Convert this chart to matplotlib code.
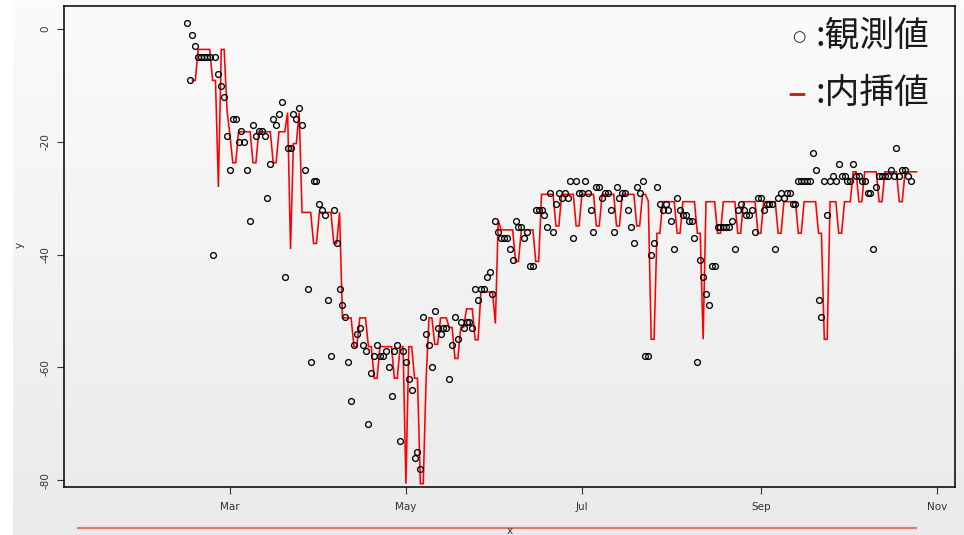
import matplotlib
matplotlib.use("Agg")
import matplotlib.pyplot as plt
from matplotlib.lines import Line2D
import matplotlib.dates as mdates
import numpy as np
import datetime as dt

# ---------------- data ----------------
ref_date = dt.date(2021, 3, 1)   # day 0 = 1 March

obs_days = [-15, -14, -13, -12, -11, -10, -9, -8, -7, -6, -5, -4, -3, -2, -1, 0,
            1, 2, 3, 4, 5, 6, 7, 8, 9, 10, 11, 12, 13, 14, 15, 16, 17, 18, 19, 20,
            21, 22, 23, 24, 25, 26, 27, 28, 29, 30, 31, 32, 33, 34, 35, 36, 37, 38,
            39, 40, 41, 42, 43, 44, 45, 46, 47, 48, 49, 50, 51, 52, 53, 54, 55, 56,
            57, 58, 59, 60, 61, 62, 63, 64, 65, 66, 67, 68, 69, 70, 71, 72, 73, 74,
            75, 76, 77, 78, 79, 80, 81, 82, 83, 84, 85, 86, 87, 88, 89, 90, 91, 92,
            93, 94, 95, 96, 97, 98, 99, 100, 101, 102, 103, 104, 105, 106, 107, 108,
            109, 110, 111, 112, 113, 114, 115, 116, 117, 118, 119, 120, 121, 122,
            123, 124, 125, 126, 127, 128, 129, 130, 131, 132, 133, 134, 135, 136,
            137, 138, 139, 140, 141, 142, 143, 144, 145, 146, 147, 148, 149, 150,
            151, 152, 153, 154, 155, 156, 157, 158, 159, 160, 161, 162, 163, 164,
            165, 166, 167, 168, 169, 170, 171, 172, 173, 174, 175, 176, 177, 178,
            179, 180, 181, 182, 183, 184, 185, 186, 187, 188, 189, 190, 191, 192,
            193, 194, 195, 196, 197, 198, 199, 200, 201, 202, 203, 204, 205, 206,
            207, 208, 209, 210, 211, 212, 213, 214, 215, 216, 217, 218, 219, 220,
            221, 222, 223, 224, 225, 226, 227, 228, 229, 230, 231, 232, 233, 234,
            235, 236]
obs_vals = [1, -9, -1, -3, -5, -5, -5, -5, -5, -40, -5, -8, -10, -12, -19, -25,
            -16, -16, -20, -18, -20, -25, -34, -17, -19, -18, -18, -19, -30, -24, -16, -17, -15, -13, -44, -21,
            -21, -15, -16, -14, -17, -25, -46, -59, -27, -27, -31, -32, -33, -48, -58, -32, -38, -46,
            -49, -51, -59, -66, -56, -54, -53, -56, -57, -70, -61, -58, -56, -58, -58, -57, -60, -65,
            -57, -56, -73, -57, -59, -62, -64, -76, -75, -78, -51, -54, -56, -60, -50, -53, -54, -53,
            -53, -62, -56, -51, -55, -52, -53, -52, -52, -53, -46, -48, -46, -46, -44, -43, -47, -34,
            -36, -37, -37, -37, -39, -41, -34, -35, -35, -37, -36, -42, -42, -32, -32, -32,
            -33, -35, -29, -36, -31, -29, -30, -29, -30, -27, -37, -27, -29, -29,
            -27, -29, -32, -36, -28, -28, -30, -29, -29, -32, -36, -28, -30, -29,
            -29, -32, -35, -38, -28, -29, -27, -58, -58, -40, -38, -28, -31, -32,
            -31, -32, -34, -39, -30, -32, -33, -33, -34, -34, -37, -59, -41, -44,
            -47, -49, -42, -42, -35, -35, -35, -35, -35, -34, -39, -32, -31, -32,
            -33, -33, -32, -36, -30, -30, -32, -31, -31, -31, -39, -30, -29, -30,
            -29, -29, -31, -31, -27, -27, -27, -27, -27, -22, -25, -48, -51, -27,
            -33, -27, -26, -27, -24, -26, -26, -27, -27, -24, -26, -26, -27, -27,
            -29, -29, -39, -28, -26, -26, -26, -26, -25, -26, -21, -26, -25, -25,
            -26, -27]

interp_start_day = -13
interp_vals = [
    -9.1, -9.1, -3.6, -3.6, -3.6, -3.6, -3.6,
    -9.1, -9.1, -28.0, -3.6, -3.6, -14.4, -18.8,
    -23.7, -23.7, -18.2, -18.2, -18.2, -18.2, -18.2,
    -23.7, -23.7, -18.2, -18.2, -18.2, -18.2, -18.2,
    -23.7, -23.7, -18.2, -18.2, -18.2, -14.8, -39.0,
    -20.3, -20.3, -14.8, -32.5, -32.5, -32.5, -32.5,
    -38.0, -38.0, -32.5, -32.5, -32.5, -32.5, -32.5,
    -38.0, -38.0, -32.5, -51.2, -51.2, -51.2, -51.2,
    -56.3, -56.3, -51.2, -51.2, -51.2, -56.3, -56.3,
    -61.9, -61.9, -56.3, -56.3, -56.3, -56.3, -56.3,
    -61.9, -61.9, -56.3, -56.3, -80.6, -56.3, -56.3,
    -61.9, -61.9, -80.6, -80.6, -62.0, -51.2, -51.2,
    -55.9, -55.9, -51.2, -51.2, -51.2, -52.9, -52.9,
    -58.4, -58.4, -52.9, -52.9, -49.6, -49.6, -49.6,
    -55.1, -55.1, -46.6, -46.6, -46.6, -46.6, -46.6,
    -52.2, -33.9, -35.6, -35.6, -35.6, -35.6, -35.6,
    -41.2, -41.2, -35.6, -35.6, -35.6, -35.6, -35.6,
    -41.2, -41.2, -29.3, -29.3, -29.3, -29.3, -29.3,
    -34.9, -34.9, -29.3, -29.3, -29.3, -29.3, -29.3,
    -34.9, -34.9, -29.3, -29.3, -29.3, -29.3, -29.3,
    -34.9, -34.9, -29.3, -29.3, -29.3, -29.3, -29.3,
    -34.9, -34.9, -29.3, -29.3, -29.3, -29.3, -29.3,
    -34.9, -34.9, -29.3, -29.3, -30.5, -55.0, -55.0,
    -36.2, -36.2, -30.6, -30.6, -30.6, -30.6, -30.6,
    -36.2, -36.2, -30.6, -30.6, -30.6, -30.6, -30.6,
    -36.2, -36.2, -55.0, -30.6, -30.6, -30.6, -30.6,
    -36.2, -36.2, -30.6, -30.6, -30.6, -30.6, -30.6,
    -36.2, -36.2, -30.6, -30.6, -30.6, -30.6, -30.6,
    -36.2, -36.2, -30.6, -30.6, -30.6, -30.6, -30.6,
    -36.2, -36.2, -30.6, -30.6, -30.6, -30.6, -30.6,
    -36.2, -36.2, -30.6, -30.6, -30.6, -30.6, -30.6,
    -36.2, -36.2, -55.0, -55.0, -30.6, -30.6, -30.6,
    -36.2, -36.2, -30.6, -30.6, -30.6, -25.3, -25.3,
    -30.6, -30.6, -25.3, -25.3, -25.3, -25.3, -25.3,
    -30.6, -30.6, -25.3, -25.3, -25.3, -25.3, -25.3,
    -30.6, -30.6, -25.3, -25.3, -25.3, -25.3, -25.3,
]

x_tick_dates = [dt.date(2021, 3, 1), dt.date(2021, 5, 1), dt.date(2021, 7, 1),
                dt.date(2021, 9, 1), dt.date(2021, 11, 1)]
x_tick_labels = ["Mar", "May", "Jul", "Sep", "Nov"]
y_ticks = [0, -20, -40, -60, -80]

# ---------------- figure ----------------
W, H = 964, 535
fig = plt.figure(figsize=(W / 100, H / 100), dpi=100)
fig.patch.set_facecolor("white")

# gradient backdrop
bg = fig.add_axes([13 / W, 0, 1 - 13 / W, 1], zorder=-10)
grad = np.linspace(0, 1, 256)[:, None]
top_c = np.array([0.985, 0.985, 0.985])
bot_c = np.array([0.918, 0.918, 0.918])
img = top_c[None, None, :] * (1 - grad[..., None]) + bot_c[None, None, :] * grad[..., None]
bg.imshow(img, aspect="auto", extent=[0, 1, 0, 1], origin="upper")
bg.set_axis_off()

left, right, top, bottom = 64.3, 955.3, 5.7, 486.5
ax = fig.add_axes([left / W, 1 - bottom / H, (right - left) / W, (bottom - top) / H])
ax.patch.set_alpha(0)

x_int = [ref_date + dt.timedelta(days=interp_start_day + i) for i in range(len(interp_vals))]
x_obs = [ref_date + dt.timedelta(days=d) for d in obs_days]

ax.plot(x_int, interp_vals, color="red", lw=1.15, zorder=2, solid_joinstyle="miter")
ax.plot(x_obs, obs_vals, linestyle="none", marker="o", mfc="none", mec="black",
        ms=4.2, mew=0.95, zorder=3)

x0 = mdates.date2num(ref_date)
ax.set_xlim(x0 - 57.4, x0 + 251.4)
ax.set_ylim(-81.1, 4.15)

ax.set_xticks([mdates.date2num(d) for d in x_tick_dates])
ax.set_xticklabels(x_tick_labels)
ax.set_yticks(y_ticks)
ax.set_yticklabels([str(v) for v in y_ticks], rotation=90, va="center")
ax.tick_params(axis="both", length=5, width=0.8, color="#333333",
               labelsize=7.5, labelcolor="#333333")
ax.tick_params(axis="x", pad=6)
ax.tick_params(axis="y", pad=5)
for s in ax.spines.values():
    s.set_linewidth(1.1)
    s.set_color("black")

fig.text(20 / W, 1 - 245 / H, "y", rotation=90, ha="center", va="center",
         fontsize=7.5, color="#333333")

# decorative underline and x label
fig.add_artist(Line2D([78 / W, 916 / W], [1 - 528 / H, 1 - 528 / H],
                      color="#E47A6A", lw=1.6))
fig.text(510 / W, 1 - 531 / H, "x", ha="center", va="center",
         fontsize=7.5, color="#333333")

# legend-like annotation
cjk = ["Noto Sans CJK JP", "DejaVu Sans"]
fig.text(929 / W, 1 - 36 / H, ":観測値", ha="right", va="center",
         fontsize=25, family=cjk, color="#1a1a1a")
fig.text(805 / W, 1 - 37 / H, "○", ha="right", va="center",
         fontsize=11, family=["DejaVu Sans"], color="#1a1a1a")
fig.text(929 / W, 1 - 93 / H, ":内挿値", ha="right", va="center",
         fontsize=25, family=cjk, color="#1a1a1a")
fig.text(806 / W, 1 - 94 / H, "–", ha="right", va="center",
         fontsize=25, family=cjk, color="#D0240C", fontweight="bold")

fig.savefig("out.png", dpi=100, facecolor=fig.get_facecolor())
